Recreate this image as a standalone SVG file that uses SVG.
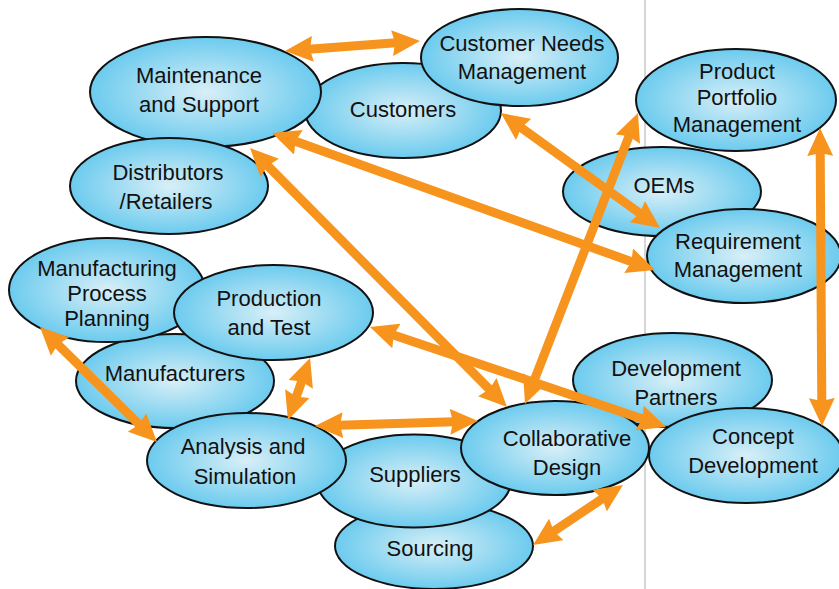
<svg xmlns="http://www.w3.org/2000/svg" width="839" height="589" viewBox="0 0 839 589">
<style>
.n ellipse{fill:url(#g);stroke:#111;stroke-width:2}
.n text{font-family:"Liberation Sans",Arial,sans-serif;font-size:22px;fill:#111;text-anchor:middle}
.c line{stroke:#F7941D;stroke-width:9;marker-start:url(#ah);marker-end:url(#ah)}
</style>
<defs>
<radialGradient id="g" cx="50%" cy="50%" r="50%">
<stop offset="0" stop-color="#d8eff7"/>
<stop offset="1" stop-color="#6ccbee"/>
</radialGradient>
<marker id="ah" markerUnits="userSpaceOnUse" markerWidth="28" markerHeight="26" viewBox="0 0 28 26" refX="4" refY="13" orient="auto-start-reverse">
<path d="M0,0 L28,13 L0,26 L3,13 z" fill="#F7941D"/>
</marker>
</defs>
<rect width="839" height="589" fill="#fff"/>
<line x1="645" y1="0" x2="645" y2="589" stroke="#c8c8c8" stroke-width="1.5"/>
<g id="customers" class="n"><ellipse cx="403" cy="110.5" rx="98" ry="47.5"/><text x="403" y="117">Customers</text></g>
<g id="maintenance" class="n"><ellipse cx="205.5" cy="92" rx="115.5" ry="55"/><text x="199" y="83">Maintenance</text><text x="199" y="112">and Support</text></g>
<g id="customer-needs" class="n"><ellipse cx="519.5" cy="57.5" rx="98.5" ry="48.5"/><text x="522" y="51">Customer Needs</text><text x="522" y="79">Management</text></g>
<g id="distributors" class="n"><ellipse cx="169" cy="186" rx="99" ry="48"/><text x="168" y="180">Distributors</text><text x="166" y="209">/Retailers</text></g>
<g id="manufacturers" class="n"><ellipse cx="175" cy="381" rx="99" ry="47"/><text x="175" y="381">Manufacturers</text></g>
<g id="mpp" class="n"><ellipse cx="107" cy="290" rx="98" ry="52"/><text x="107" y="276">Manufacturing</text><text x="107" y="301">Process</text><text x="107" y="326">Planning</text></g>
<g id="production" class="n"><ellipse cx="273.5" cy="312.5" rx="99.5" ry="47.5"/><text x="269" y="306">Production</text><text x="269" y="335">and Test</text></g>
<g id="sourcing" class="n"><ellipse cx="434" cy="546" rx="99" ry="43"/><text x="430" y="556">Sourcing</text></g>
<g id="suppliers" class="n"><ellipse cx="414" cy="481" rx="97" ry="46.5"/><text x="415" y="482">Suppliers</text></g>
<g id="analysis" class="n"><ellipse cx="246.5" cy="460.5" rx="99.5" ry="47.5"/><text x="243" y="454">Analysis and</text><text x="245" y="484">Simulation</text></g>
<g id="dev-partners" class="n"><ellipse cx="672.5" cy="380" rx="99.5" ry="47"/><text x="676" y="376">Development</text><text x="676" y="405">Partners</text></g>
<g id="collaborative" class="n"><ellipse cx="555" cy="448" rx="94" ry="47"/><text x="567" y="446">Collaborative</text><text x="567" y="475">Design</text></g>
<g id="concept" class="n"><ellipse cx="746" cy="455.5" rx="97" ry="47.5"/><text x="753" y="444">Concept</text><text x="753" y="473">Development</text></g>
<g id="oems" class="n"><ellipse cx="662" cy="191.5" rx="99" ry="44.5"/><text x="664" y="193">OEMs</text></g>
<g id="requirement" class="n"><ellipse cx="744" cy="256" rx="97" ry="47"/><text x="738" y="249">Requirement</text><text x="738" y="277">Management</text></g>
<g id="portfolio" class="n"><ellipse cx="736" cy="100" rx="100" ry="51"/><text x="737" y="79">Product</text><text x="737" y="105">Portfolio</text><text x="737" y="132">Management</text></g>
<g id="connectors" class="c">
<line x1="308.9" y1="49.2" x2="396.1" y2="42.8"/>
<line x1="294.6" y1="141" x2="632.4" y2="262"/>
<line x1="266.9" y1="165" x2="490.1" y2="390"/>
<line x1="520.4" y1="127.1" x2="640.6" y2="213.9"/>
<line x1="629.3" y1="135.4" x2="533.7" y2="381.6"/>
<line x1="392.7" y1="334.7" x2="643.3" y2="419.3"/>
<line x1="302" y1="380.6" x2="296" y2="397.4"/>
<line x1="339" y1="425.3" x2="454" y2="421.7"/>
<line x1="57.1" y1="343.8" x2="139.9" y2="425.2"/>
<line x1="553" y1="531.7" x2="603" y2="498.3"/>
<line x1="820.2" y1="152" x2="821.8" y2="402"/>
</g>
</svg>
